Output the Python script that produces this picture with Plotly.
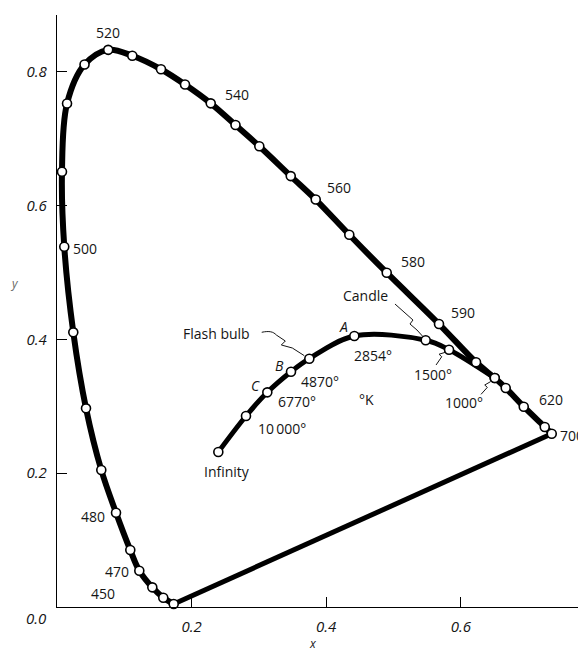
import plotly.graph_objects as go

# ---- data ----
wavelengths = [380, 450, 460, 470, 475, 480, 485, 490, 495, 500, 505, 510, 515, 520,
               525, 530, 535, 540, 545, 550, 555, 560, 570, 580, 590, 600, 605, 610,
               620, 650, 700]
spec_x = [0.1734, 0.1579, 0.1416, 0.1223, 0.1089, 0.0877, 0.0658, 0.0431, 0.0242, 0.0108,
          0.0074, 0.0149, 0.0409, 0.0761, 0.1119, 0.1545, 0.1902, 0.2284, 0.2652, 0.3006,
          0.3473, 0.3844, 0.4343, 0.4899, 0.5676, 0.6226, 0.6504, 0.6667, 0.6935, 0.7247,
          0.7351]
spec_y = [0.0045, 0.0139, 0.0294, 0.0543, 0.0852, 0.1410, 0.2048, 0.2970, 0.4106, 0.5386,
          0.6507, 0.7526, 0.8109, 0.8329, 0.8241, 0.8039, 0.7810, 0.7529, 0.7205, 0.6888,
          0.6442, 0.6091, 0.5565, 0.4997, 0.4230, 0.3658, 0.3423, 0.3274, 0.2994, 0.2691,
          0.2590]

planck_names = ["Infinity", "10000", "6770 (C)", "4870 (B)", "Flash bulb", "2854 (A)",
                "Candle", "1500", "1000"]
planck_x = [0.2397, 0.2808, 0.3125, 0.3477, 0.3749, 0.4418, 0.5478, 0.5825, 0.6504]
planck_y = [0.2317, 0.2855, 0.3209, 0.3517, 0.3712, 0.4051, 0.3987, 0.3846, 0.3423]

y_ticks = [0.2, 0.4, 0.6, 0.8]
y_tick_text = ["0.2", "0.4", "0.6", "0.8"]
x_ticks = [0.2, 0.4, 0.6]
x_tick_text = ["0.2", "0.4", "0.6"]

# label text, x, y (data coords)
wave_labels = [("520", 0.0758, 0.8595), ("540", 0.2675, 0.7668), ("560", 0.4190, 0.6278),
               ("580", 0.5290, 0.5172), ("590", 0.6033, 0.4410), ("620", 0.7340, 0.3109),
               ("500", 0.0416, 0.5366), ("480", 0.0535, 0.1360),
               ("470", 0.0892, 0.0538), ("450", 0.0684, 0.0209)]
temp_labels = [("2854°", 0.4695, 0.3767), ("4870°", 0.3908, 0.3378),
               ("6770°", 0.3562, 0.3069), ("10\u2009000°", 0.3339, 0.2671),
               ("°K", 0.4602, 0.3105), ("Infinity", 0.2522, 0.2022),
               ("Flash bulb", 0.2377, 0.4096), ("Candle", 0.4591, 0.4664),
               ("1500°", 0.5587, 0.3483), ("1000°", 0.6048, 0.3064)]
letter_labels = [("A", 0.4254, 0.4190), ("B", 0.3303, 0.3617), ("C", 0.2952, 0.3318)]

FONT = "Open Sans"
INK = "#151515"

fig = go.Figure()

# spectral locus
fig.add_trace(go.Scatter(x=spec_x, y=spec_y, mode="lines",
                         line=dict(color="black", width=6, shape="spline", smoothing=1),
                         hoverinfo="skip", cliponaxis=False))
# purple line (straight, end to end)
fig.add_trace(go.Scatter(x=[spec_x[0], spec_x[-1]], y=[spec_y[0], spec_y[-1]], mode="lines",
                         line=dict(color="black", width=5), hoverinfo="skip", cliponaxis=False))
# Planckian locus
fig.add_trace(go.Scatter(x=planck_x, y=planck_y, mode="lines",
                         line=dict(color="black", width=5, shape="spline", smoothing=1),
                         hoverinfo="skip", cliponaxis=False))
# markers
marker_style = dict(symbol="circle", size=9, color="white", line=dict(color="black", width=1.6))
fig.add_trace(go.Scatter(x=spec_x, y=spec_y, mode="markers", marker=marker_style,
                         text=[str(w) for w in wavelengths], cliponaxis=False))
fig.add_trace(go.Scatter(x=planck_x, y=planck_y, mode="markers", marker=marker_style,
                         text=planck_names, cliponaxis=False))

annotations = []
for t, x, y in wave_labels + temp_labels:
    annotations.append(dict(text=t, x=x, y=y, xref="x", yref="y", showarrow=False,
                            font=dict(family=FONT, size=14, color=INK)))
for t, x, y in letter_labels:
    annotations.append(dict(text=t, x=x, y=y, xref="x", yref="y", showarrow=False,
                            font=dict(family=FONT, size=14, color=INK, style="italic")))
# 700 label: right-aligned at the figure edge (it is cut by the edge in the source)
annotations.append(dict(text="700", x=1.0, y=0.2571, xref="paper", yref="y",
                        xanchor="right", yanchor="middle", showarrow=False,
                        font=dict(family=FONT, size=14, color=INK)))
# corner / clipped tick labels and axis titles
def paper_note(text, x, y, size, color=INK):
    return dict(text=text, x=x, y=y, xref="paper", yref="paper", showarrow=False,
                xanchor="center", yanchor="middle",
                font=dict(family=FONT, size=size, color=color, style="italic"))

annotations += [
    paper_note("0.0", -0.0397, -0.0186, 15),
    paper_note("0.8", 1.0178, -0.032, 15),
    paper_note("x", 0.484, -0.0615, 12),
    paper_note("y", -0.0794, 0.547, 12, "#666"),
]

# thin squiggly leader lines, anchored at the relevant circles (pixel offsets)
def leader(ix, path):
    return dict(type="path", xref="x", yref="y", xsizemode="pixel", ysizemode="pixel",
                xanchor=planck_x[ix], yanchor=planck_y[ix], path=path,
                line=dict(color=INK, width=1))

shapes = [
    leader(4, "M -47.6,26.4 C -40,28 -36,27 -33,23.7 L -24,17.7 L -28,13.7 L -17,10.7 L -5,3"),
    leader(6, "M -30.7,36.3 L -12.7,20.3 L -15.7,16.3 L -8.7,10.3 L -3,4"),
    leader(7, "M -13,-15.3 L -7.3,-7 L -10,-4.5 L -3.5,-2.5"),
    leader(8, "M -13.7,-16.3 L -7.4,-9.3 L -10,-7 L -4,-3.5"),
]

axis_common = dict(showgrid=False, zeroline=False, showline=True, automargin=False,
                   linecolor="black", linewidth=1.3, ticks="inside", ticklen=10,
                   tickwidth=1.2, tickcolor="black",
                   tickfont=dict(family=FONT, size=15, color=INK, style="italic"),
                   ticklabelstandoff=6)

# the page body adds an 8px offset, so the figure is 8px smaller than the window
fig.update_layout(
    width=578, height=645,
    margin=dict(l=49, r=0, t=7, b=46, autoexpand=False),
    paper_bgcolor="white", plot_bgcolor="white",
    showlegend=False,
    annotations=annotations,
    shapes=shapes,
    xaxis=dict(range=[0, 0.786], tickvals=x_ticks, ticktext=x_tick_text, **axis_common),
    yaxis=dict(range=[0, 0.885], tickvals=y_ticks, ticktext=y_tick_text, **axis_common),
)

fig.write_html("out.html")
